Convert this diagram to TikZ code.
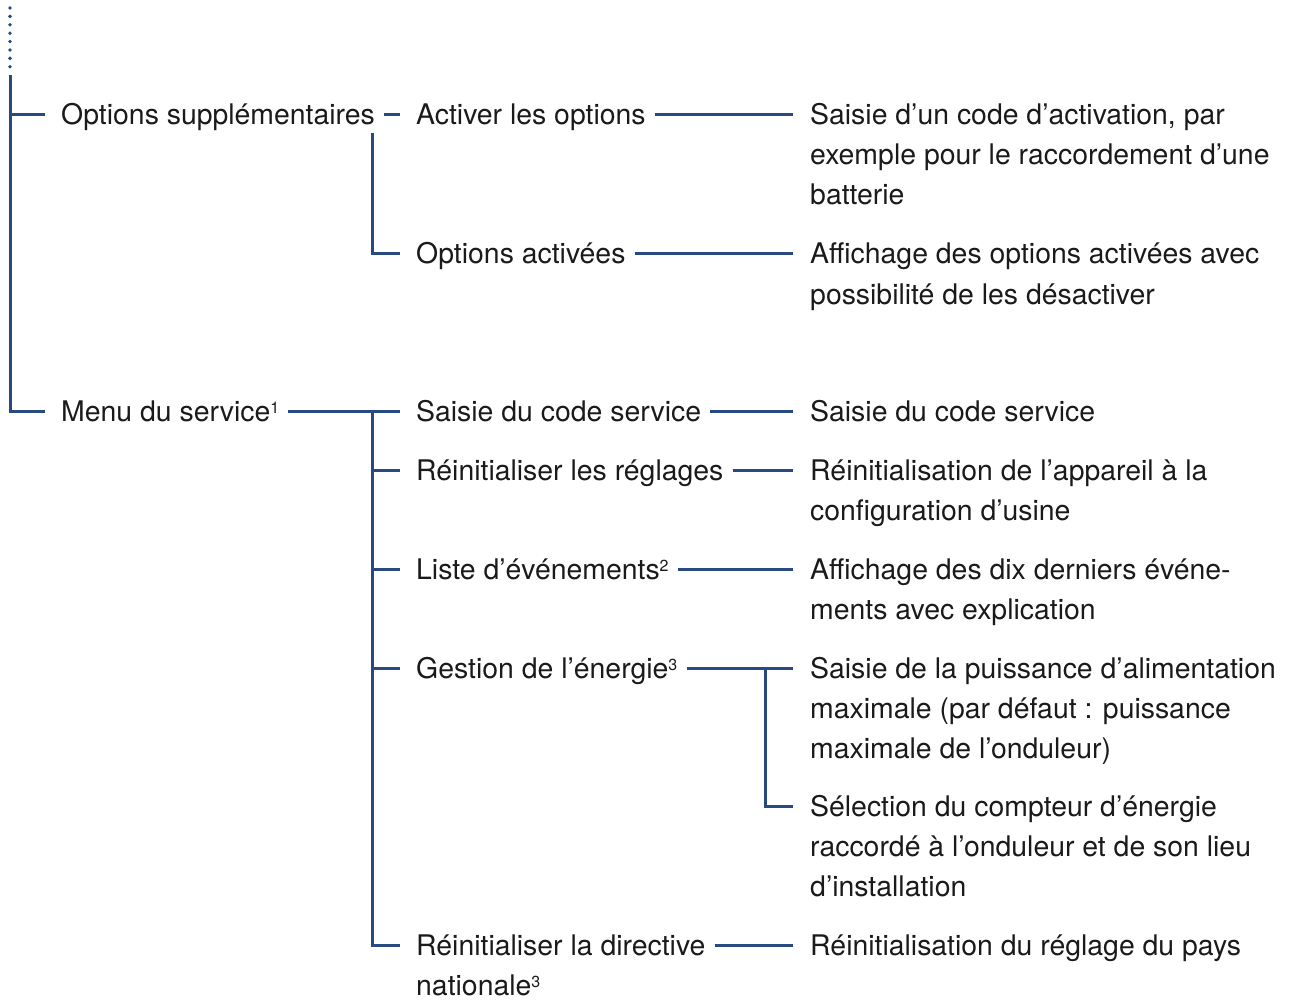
\documentclass[tikz,border=0pt]{standalone}
\usepackage{fontspec}
\setmainfont{TeX Gyre Heros}
\definecolor{tree}{RGB}{40,74,128}
\definecolor{ink}{RGB}{26,26,26}
\newcommand\fnote[1]{\raisebox{8pt}{\fontsize{16pt}{16pt}\selectfont #1}}
% multi-line text whose baseline is that of its first line
\newcommand\lines[1]{\begin{tabular}[t]{@{}l@{}}#1\end{tabular}}
\begin{document}
\begin{tikzpicture}[x=1pt,y=-1pt,
  txt/.style={anchor=base west, inner sep=0pt,
    font=\fontsize{28.4pt}{40pt}\selectfont, text=ink},
  link/.style={draw=tree, line width=3pt},
  dots/.style={draw=tree, line width=3.8pt, line cap=round, dash pattern=on 0pt off 8.4pt}]
\useasboundingbox (0,0) rectangle (1292,1000);

% first level
\node[txt] (opt) at (61,125) {Options supplémentaires};
\node[txt] (svc) at (61,421) {Menu du service\fnote{1}};

% second level
\node[txt] (act)    at (416,125) {Activer les options};
\node[txt] (optact) at (416,264) {Options activées};
\node[txt] (code)   at (416,421) {Saisie du code service};
\node[txt] (reset)  at (416,480) {Réinitialiser les réglages};
\node[txt] (events) at (416,579) {Liste d’événements\fnote{2}};
\node[txt] (energy) at (416,678) {Gestion de l’énergie\fnote{3}};
\node[txt] (dir)    at (416,955) {\lines{Réinitialiser la directive\\nationale\fnote{3}}};

% descriptions
\node[txt] (dact)    at (810,125) {\lines{Saisie d’un code d’activation, par\\exemple pour le raccordement d’une\\batterie}};
\node[txt] (doptact) at (810,264) {\lines{Affichage des options activées avec\\possibilité de les désactiver}};
\node[txt] (dcode)   at (810,421) {Saisie du code service};
\node[txt] (dreset)  at (810,480) {\lines{Réinitialisation de l’appareil à la\\configuration d’usine}};
\node[txt] (devents) at (810,579) {\lines{Affichage des dix derniers événe-\\ments avec explication}};
\node[txt] (dpower)  at (810,678) {\lines{Saisie de la puissance d’alimentation\\maximale (par défaut : puissance\\maximale de l’onduleur)}};
\node[txt] (dmeter)  at (810,816) {\lines{Sélection du compteur d’énergie\\raccordé à l’onduleur et de son lieu\\d’installation}};
\node[txt] (ddir)    at (810,955) {Réinitialisation du réglage du pays};

% connector ends: left stubs (in) and right stubs (out) at mid-cap height
\foreach \n in {opt,svc,act,optact,code,reset,events,energy,dir} {
  \coordinate (\n-in)  at ([shift={(-16,-10)}]\n.base west);
  \coordinate (\n-out) at ([shift={(9,-10)}]\n.base east);
}
\foreach \n in {dact,doptact,dcode,dreset,devents,dpower,dmeter,ddir}
  \coordinate (\n-in) at ([shift={(-17,-10)}]\n.base west);

% root trunk
\coordinate (top)  at (10,8);
\coordinate (root) at (10,75);
\draw[dots] (top) -- (root);
\draw[link] (root) |- (svc-in);
\draw[link] (opt-in) -- (root |- opt-in);

% branch: options
\coordinate (ja) at ([xshift=-44pt]act.base west);
\draw[link] (opt-out) -- (act-in);
\draw[link] ([yshift=-2pt]ja |- opt.south) |- (optact-in);

% branch: service menu
\coordinate (jb) at ([xshift=-28pt]code-in);
\draw[link] (svc-out) -- (code-in);
\draw[link] (jb) |- (dir-in);
\foreach \n in {reset,events,energy}
  \draw[link] (jb |- \n-in) -- (\n-in);

% item to description links
\foreach \a/\b in {act/dact, optact/doptact, code/dcode, reset/dreset, events/devents, energy/dpower, dir/ddir}
  \draw[link] (\a-out) -- (\b-in);
\coordinate (jc) at ([xshift=-28pt]dpower-in);
\draw[link] (jc) |- (dmeter-in);
\end{tikzpicture}
\end{document}
